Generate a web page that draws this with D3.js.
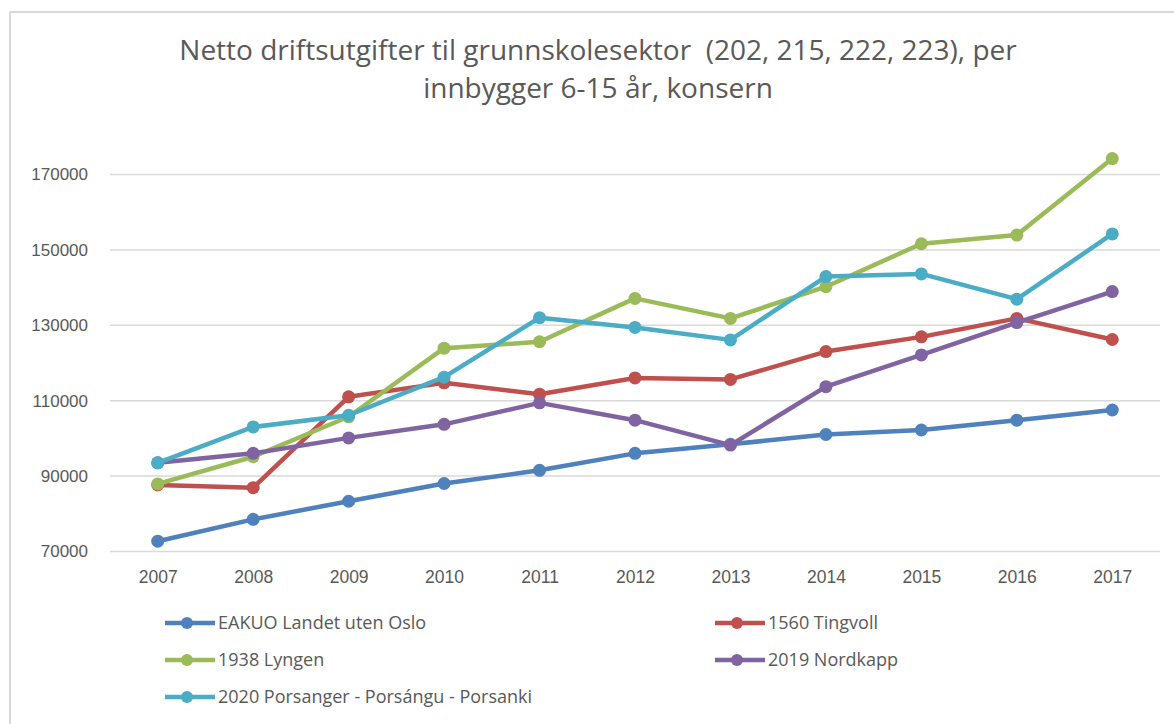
<!DOCTYPE html>
<html>
<head>
  <meta charset="utf-8">
  <script src="https://d3js.org/d3.v7.min.js"></script>
  <style>
    body { margin: 0; background: #fff; font-family: "Open Sans", "Noto Sans", sans-serif; }
    .grid line { stroke: #d9d9d9; stroke-width: 1.5px; }
    .grid .domain { stroke: none; }
    .axis text { fill: #595959; }
    .axis .domain, .axis line { stroke: none; }
  </style>
</head>
<body>
  <svg id="chart" width="1174" height="724"></svg>
  <script>
    const years = ["2007","2008","2009","2010","2011","2012","2013","2014","2015","2016","2017"];
    const yTicks = [70000, 90000, 110000, 130000, 150000, 170000];

    const eakuo     = [72600, 78400, 83200, 87900, 91400, 95900, 98300, 100900, 102100, 104700, 107400];
    const tingvoll  = [87500, 86800, 110900, 114600, 111600, 115900, 115500, 122900, 126800, 131700, 126100];
    const lyngen    = [87800, 95000, 105600, 123800, 125500, 137000, 131700, 140100, 151500, 153800, 174100];
    const nordkapp  = [93400, 95900, 100000, 103600, 109300, 104700, 98100, 113600, 122000, 130600, 138800];
    const porsanger = [93400, 102900, 106000, 116100, 131900, 129300, 126000, 142800, 143500, 136800, 154100];

    const seriesNames = ["EAKUO Landet uten Oslo", "1560 Tingvoll", "1938 Lyngen", "2019 Nordkapp",
                         "2020 Porsanger - Porsángu - Porsanki"];
    const seriesValues = [eakuo, tingvoll, lyngen, nordkapp, porsanger];
    const colors = ["#4f81bd", "#c0504d", "#9bbb59", "#8064a2", "#4bacc6"];

    const svg = d3.select("#chart");

    // chart border (top + left only, like the screenshot)
    svg.append("line").attr("x1", 10).attr("x2", 1174).attr("y1", 12).attr("y2", 12)
       .attr("stroke", "#d9d9d9").attr("stroke-width", 2);
    svg.append("line").attr("x1", 10).attr("x2", 10).attr("y1", 12).attr("y2", 724)
       .attr("stroke", "#d9d9d9").attr("stroke-width", 2);

    // title
    const title = svg.append("text")
       .attr("text-anchor", "middle")
       .attr("fill", "#595959")
       .style("white-space", "pre")
       .style("font-size", "28px");
    title.append("tspan").attr("x", 598).attr("y", 60)
       .text("Netto driftsutgifter til grunnskolesektor  (202, 215, 222, 223), per");
    title.append("tspan").attr("x", 598).attr("y", 98)
       .text("innbygger 6-15 år, konsern");

    const plotLeft = 110, plotRight = 1160, plotTop = 174, plotBottom = 551;

    const x = d3.scalePoint().domain(years).range([plotLeft, plotRight]).padding(0.5);
    const y = d3.scaleLinear().domain([70000, 170000]).range([plotBottom, plotTop]);

    svg.append("g").attr("class", "grid")
       .attr("transform", `translate(${plotLeft},0)`)
       .call(d3.axisLeft(y).tickValues(yTicks).tickSize(-(plotRight - plotLeft)).tickFormat(""));

    svg.append("g").attr("class", "axis")
       .attr("transform", `translate(${plotLeft - 19},0)`)
       .call(d3.axisLeft(y).tickValues(yTicks).tickSize(0).tickFormat(d3.format("d")))
       .selectAll("text").attr("dy", "0.35em").style("font-size", "17px");

    svg.append("g").attr("class", "axis")
       .attr("transform", `translate(0,${plotBottom + 14})`)
       .call(d3.axisBottom(x).tickSize(0))
       .selectAll("text").attr("dy", "0.85em").style("font-size", "17.5px");

    const line = d3.line().x((d, i) => x(years[i])).y(d => y(d));

    seriesValues.forEach((vals, k) => {
      const g = svg.append("g");
      g.append("path").datum(vals)
       .attr("d", line)
       .attr("fill", "none")
       .attr("stroke", colors[k])
       .attr("stroke-width", 4.5)
       .attr("stroke-linejoin", "round");
      g.selectAll("circle").data(vals).join("circle")
       .attr("cx", (d, i) => x(years[i]))
       .attr("cy", d => y(d))
       .attr("r", 6.5)
       .attr("fill", colors[k]);
    });

    // legend
    const legendPos = [[165, 623], [715, 623], [165, 660], [715, 660], [165, 697]];
    seriesNames.forEach((name, k) => {
      const [lx, ly] = legendPos[k];
      const g = svg.append("g").attr("transform", `translate(${lx},${ly})`);
      g.append("line").attr("x1", 0).attr("x2", 50).attr("y1", 0).attr("y2", 0)
       .attr("stroke", colors[k]).attr("stroke-width", 4.5);
      g.append("circle").attr("cx", 22).attr("cy", 0).attr("r", 6).attr("fill", colors[k]);
      g.append("text").attr("x", 53).attr("y", 0).attr("dy", "0.35em")
       .attr("fill", "#595959").style("font-size", "18px").text(name);
    });
  </script>
</body>
</html>
